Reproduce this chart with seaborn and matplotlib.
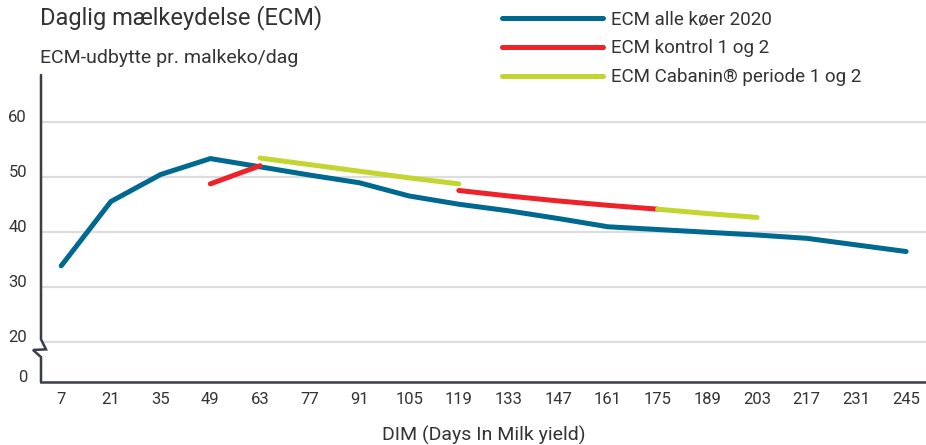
import matplotlib
matplotlib.use("Agg")
import matplotlib.pyplot as plt
import matplotlib.transforms as mtransforms
from matplotlib.lines import Line2D
import pandas as pd
import seaborn as sns

# data
days = [7, 21, 35, 49, 63, 77, 91, 105, 119, 133, 147, 161, 175, 189, 203, 217, 231, 245]
ecm_all = [33.8, 45.5, 50.4, 53.3, 51.8, 50.3, 48.9, 46.5, 45.0, 43.8, 42.4, 40.9,
           40.4, 39.9, 39.4, 38.8, 37.6, 36.4]

ctrl1_days = [49, 63]
ctrl1_vals = [48.7, 52.0]
ctrl2_days = [119, 133, 147, 161, 175]
ctrl2_vals = [47.5, 46.5, 45.6, 44.8, 44.1]

cab1_days = [63, 77, 91, 105, 119]
cab1_vals = [53.4, 52.2, 51.0, 49.8, 48.7]
cab2_days = [175, 189, 203]
cab2_vals = [44.1, 43.3, 42.6]

series_names = ["ECM alle køer 2020", "ECM kontrol 1 og 2", "ECM Cabanin® periode 1 og 2"]
colors = ["#00698F", "#EE2229", "#C3D62F"]

y_ticks = [20, 30, 40, 50, 60]
zero_pos = 12.67  # where "0" sits below the axis break

# long-form table
parts = [
    (series_names[0], "all", days, ecm_all),
    (series_names[1], "k1", ctrl1_days, ctrl1_vals),
    (series_names[1], "k2", ctrl2_days, ctrl2_vals),
    (series_names[2], "c1", cab1_days, cab1_vals),
    (series_names[2], "c2", cab2_days, cab2_vals),
]
rows = []
for name, seg, xs, ys in parts:
    for x, y in zip(xs, ys):
        rows.append({"serie": name, "segment": seg, "dag": x, "ecm": y})
df = pd.DataFrame(rows)

sns.set_theme(style="white")
plt.rcParams["font.family"] = ["Roboto", "DejaVu Sans"]
text_color = "#333333"
axis_color = "#3C3D4A"

fig = plt.figure(figsize=(9.26, 4.45), dpi=100)
ax = fig.add_axes([41 / 926, 63 / 445, 885 / 926, 307 / 445])

sns.lineplot(
    data=df, x="dag", y="ecm", hue="serie", units="segment", estimator=None,
    hue_order=series_names, palette=colors, linewidth=3.6, sort=False,
    legend=False, ax=ax, solid_capstyle="round",
)

ax.set_xlim(1.3, 250.6)
ax.set_ylim(zero_pos, 68.5)

ax.set_xticks(days)
ax.set_xticklabels([str(d) for d in days])
ax.set_yticks([zero_pos] + y_ticks)
ax.set_yticklabels(["0"] + [str(v) for v in y_ticks])
for lab in ax.get_yticklabels():
    lab.set_va("baseline")

ax.tick_params(axis="x", length=0, pad=7, labelsize=12, colors=text_color)
ax.tick_params(axis="y", length=0, pad=10, labelsize=12, colors=text_color)

ax.yaxis.grid(True, color="#DDDDDD", linewidth=1.6)
ax.xaxis.grid(False)
ax.get_ygridlines()[0].set_visible(False)
ax.set_axisbelow(True)

for side in ["top", "right", "left"]:
    ax.spines[side].set_visible(False)
ax.spines["bottom"].set_color(axis_color)
ax.spines["bottom"].set_linewidth(1.8)

# left axis with break mark
trans = mtransforms.blended_transform_factory(ax.transAxes, ax.transData)
bx = [0, 0, 5 / 885, -8 / 885, 0, 0]
by = [68.5, 20.44, 18.6, 18.5, 17.2, zero_pos]
ax.plot(bx, by, transform=trans, color=axis_color, linewidth=1.8, clip_on=False,
        solid_joinstyle="miter")

ax.set_xlabel("DIM (Days In Milk yield)", fontsize=14, color=text_color, labelpad=14)
ax.set_ylabel("")

fig.text(40 / 926, 1 - 24.3 / 445, "Daglig mælkeydelse (ECM)", fontsize=17,
         color=text_color, va="baseline", ha="left")
fig.text(40 / 926, 1 - 63.3 / 445, "ECM-udbytte pr. malkeko/dag", fontsize=14,
         color=text_color, va="baseline", ha="left")

handles = [Line2D([], [], color=c, linewidth=3.6, solid_capstyle="round") for c in colors]
fig.legend(handles, series_names, loc="upper left", bbox_to_anchor=(498 / 926, 1 - 7 / 445),
           frameon=False, fontsize=13.5, handlelength=5.4, handletextpad=0.45,
           labelspacing=0.57, borderaxespad=0, borderpad=0.2, labelcolor=text_color)

fig.savefig("out.png", dpi=100)
